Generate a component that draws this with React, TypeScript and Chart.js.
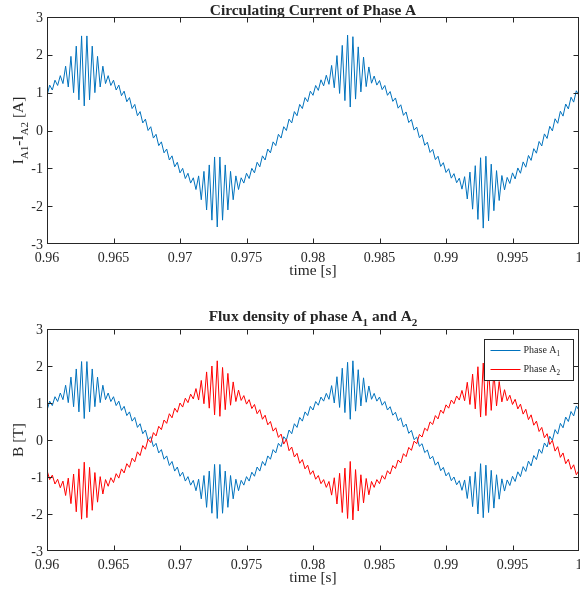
import React, { useEffect, useRef } from 'react';
import { Chart, registerables } from 'chart.js';

Chart.register(...registerables);

// ---------------- data ----------------
const T_START = 0.96;
const T_STEP = 0.0002;

const X_TICKS = [0.96, 0.965, 0.97, 0.975, 0.98, 0.985, 0.99, 0.995, 1];
const X_TICK_LABELS = ['0.96', '0.965', '0.97', '0.975', '0.98', '0.985', '0.99', '0.995', '1'];
const Y_TICKS = [3, 2, 1, 0, -1, -2, -3];
const Y_TICK_LABELS = ['3', '2', '1', '0', '-1', '-2', '-3'];

// I_A1 - I_A2 [A], sampled every T_STEP from T_START
const CIRCULATING_CURRENT = [
  0.92, 1.20, 1.07, 1.33, 1.19, 1.45, 1.24, 1.70, 1.15, 1.96,
  1.00, 2.23, 0.81, 2.50, 0.65, 2.50, 0.81, 2.23, 1.00, 1.96,
  1.15, 1.70, 1.24, 1.45, 1.19, 1.33, 1.07, 1.20, 0.92, 1.04,
  0.76, 0.87, 0.58, 0.69, 0.39, 0.50, 0.20, 0.30, 0.00, 0.10,
  -0.20, -0.10, -0.40, -0.30, -0.59, -0.49, -0.78, -0.67, -0.96, -0.84,
  -1.12, -1.00, -1.27, -1.13, -1.39, -1.25, -1.56, -1.20, -1.83, -1.08,
  -2.10, -0.91, -2.37, -0.70, -2.55, -0.70, -2.37, -0.91, -2.10, -1.08,
  -1.83, -1.20, -1.56, -1.25, -1.39, -1.13, -1.27, -1.00, -1.12, -0.84,
  -0.96, -0.67, -0.78, -0.49, -0.59, -0.30, -0.40, -0.10, -0.20, 0.10,
  0.00, 0.30, 0.20, 0.50, 0.39, 0.69, 0.58, 0.87, 0.76, 1.04,
  0.93, 1.19, 1.06, 1.34, 1.18, 1.46, 1.22, 1.72, 1.13, 1.98,
  0.98, 2.25, 0.79, 2.52, 0.62, 2.48, 0.83, 2.21, 1.02, 1.94,
  1.16, 1.68, 1.25, 1.44, 1.20, 1.32, 1.08, 1.19, 0.93, 1.03,
  0.77, 0.86, 0.59, 0.68, 0.40, 0.49, 0.21, 0.29, 0.01, 0.09,
  -0.19, -0.11, -0.39, -0.31, -0.58, -0.50, -0.77, -0.68, -0.95, -0.85,
  -1.11, -1.01, -1.26, -1.14, -1.38, -1.26, -1.55, -1.22, -1.81, -1.10,
  -2.08, -0.93, -2.35, -0.72, -2.58, -0.68, -2.39, -0.89, -2.12, -1.06,
  -1.85, -1.19, -1.57, -1.24, -1.40, -1.12, -1.28, -0.99, -1.13, -0.83,
  -0.97, -0.66, -0.79, -0.48, -0.60, -0.29, -0.41, -0.09, -0.21, 0.11,
  -0.01, 0.31, 0.19, 0.51, 0.38, 0.70, 0.57, 0.88, 0.75, 1.05,
  0.92,
];

// Flux density of phase A1 [T]
const FLUX_A1 = [
  0.80, 1.05, 0.93, 1.17, 1.04, 1.27, 1.09, 1.48, 1.01, 1.70,
  0.90, 1.92, 0.76, 2.12, 0.58, 2.12, 0.76, 1.92, 0.90, 1.70,
  1.01, 1.48, 1.09, 1.27, 1.04, 1.17, 0.93, 1.05, 0.80, 0.91,
  0.66, 0.76, 0.51, 0.61, 0.34, 0.44, 0.17, 0.27, 0.00, 0.09,
  -0.18, -0.09, -0.35, -0.26, -0.52, -0.43, -0.69, -0.58, -0.84, -0.73,
  -0.98, -0.87, -1.11, -0.99, -1.22, -1.09, -1.37, -1.06, -1.59, -0.96,
  -1.82, -0.84, -1.98, -0.66, -2.12, -0.66, -1.98, -0.84, -1.82, -0.96,
  -1.59, -1.06, -1.37, -1.09, -1.22, -0.99, -1.11, -0.87, -0.98, -0.73,
  -0.84, -0.58, -0.69, -0.43, -0.52, -0.26, -0.35, -0.09, -0.18, 0.09,
  0.00, 0.27, 0.17, 0.44, 0.34, 0.61, 0.51, 0.76, 0.66, 0.91,
  0.81, 1.04, 0.94, 1.16, 1.05, 1.26, 1.10, 1.47, 1.00, 1.71,
  0.88, 1.94, 0.74, 2.10, 0.56, 2.14, 0.78, 1.90, 0.92, 1.68,
  1.02, 1.46, 1.10, 1.26, 1.05, 1.16, 0.94, 1.04, 0.81, 0.90,
  0.67, 0.75, 0.52, 0.60, 0.35, 0.43, 0.18, 0.26, 0.01, 0.08,
  -0.17, -0.10, -0.34, -0.27, -0.51, -0.44, -0.68, -0.59, -0.83, -0.74,
  -0.97, -0.88, -1.10, -1.00, -1.21, -1.10, -1.36, -1.08, -1.58, -0.98,
  -1.80, -0.86, -2.00, -0.64, -2.10, -0.68, -1.96, -0.82, -1.84, -0.94,
  -1.60, -1.05, -1.38, -1.08, -1.23, -0.98, -1.12, -0.86, -0.99, -0.72,
  -0.85, -0.57, -0.70, -0.42, -0.53, -0.25, -0.36, -0.08, -0.19, 0.10,
  -0.01, 0.28, 0.16, 0.45, 0.33, 0.62, 0.50, 0.77, 0.65, 0.92,
  0.80,
];

// Flux density of phase A2 [T]
const FLUX_A2 = [
  -0.82, -1.07, -0.95, -1.19, -1.06, -1.29, -1.11, -1.50, -1.03, -1.72,
  -0.92, -1.94, -0.78, -2.14, -0.60, -2.10, -0.74, -1.90, -0.88, -1.68,
  -0.99, -1.46, -1.07, -1.25, -1.02, -1.15, -0.91, -1.03, -0.78, -0.89,
  -0.64, -0.74, -0.49, -0.59, -0.32, -0.42, -0.15, -0.25, 0.02, -0.07,
  0.20, 0.11, 0.37, 0.28, 0.54, 0.45, 0.71, 0.60, 0.86, 0.75,
  1.00, 0.89, 1.13, 1.01, 1.24, 1.11, 1.39, 1.08, 1.61, 0.98,
  1.84, 0.86, 2.00, 0.68, 2.14, 0.64, 1.96, 0.82, 1.80, 0.94,
  1.57, 1.04, 1.35, 1.07, 1.20, 0.97, 1.09, 0.85, 0.96, 0.71,
  0.82, 0.56, 0.67, 0.41, 0.50, 0.24, 0.33, 0.07, 0.16, -0.11,
  0.02, -0.29, -0.19, -0.46, -0.36, -0.63, -0.53, -0.78, -0.68, -0.93,
  -0.83, -1.06, -0.96, -1.18, -1.07, -1.28, -1.12, -1.49, -1.02, -1.73,
  -0.90, -1.96, -0.76, -2.12, -0.58, -2.16, -0.80, -1.92, -0.94, -1.70,
  -1.04, -1.48, -1.12, -1.28, -1.07, -1.18, -0.96, -1.06, -0.83, -0.92,
  -0.69, -0.77, -0.54, -0.62, -0.37, -0.45, -0.20, -0.28, -0.03, -0.10,
  0.15, 0.08, 0.32, 0.25, 0.49, 0.42, 0.66, 0.57, 0.81, 0.72,
  0.95, 0.86, 1.08, 0.98, 1.19, 1.08, 1.34, 1.06, 1.56, 0.96,
  1.78, 0.84, 1.98, 0.62, 2.08, 0.66, 1.94, 0.80, 1.82, 0.92,
  1.58, 1.03, 1.36, 1.06, 1.21, 0.96, 1.10, 0.84, 0.97, 0.70,
  0.83, 0.55, 0.68, 0.40, 0.51, 0.23, 0.34, 0.06, 0.17, -0.12,
  -0.01, -0.30, -0.18, -0.47, -0.35, -0.64, -0.52, -0.79, -0.67, -0.94,
  -0.82,
];

// ---------------- styling ----------------
const FONT = "'Liberation Serif', 'Times New Roman', Times, serif";
const INK = '#262626';
const BLUE = '#0072BD';
const RED = '#FF0000';

type Part = { t: string; sub?: boolean };

const font = (size: number, bold: boolean) => `${bold ? 'bold ' : ''}${size}px ${FONT}`;

function drawRich(
  ctx: CanvasRenderingContext2D,
  parts: Part[],
  x: number,
  y: number,
  size: number,
  bold: boolean,
  align: 'center' | 'left'
) {
  const subSize = size * 0.72;
  let w = 0;
  for (const p of parts) {
    ctx.font = font(p.sub ? subSize : size, bold);
    w += ctx.measureText(p.t).width;
  }
  let cx = align === 'center' ? x - w / 2 : x;
  ctx.textAlign = 'left';
  ctx.textBaseline = 'alphabetic';
  for (const p of parts) {
    ctx.font = font(p.sub ? subSize : size, bold);
    ctx.fillText(p.t, cx, p.sub ? y + size * 0.3 : y);
    cx += ctx.measureText(p.t).width;
  }
}

type LegendItem = { parts: Part[]; color: string };

type Decor = {
  title: Part[];
  titleY: number;
  ylabel: Part[];
  ylabelX: number;
  xlabelGap: number;
  legend?: LegendItem[];
};

function makeDecorPlugin(d: Decor) {
  return {
    id: 'matlabDecor',
    afterDraw(chart: any) {
      const ctx: CanvasRenderingContext2D = chart.ctx;
      const { left, right, top, bottom } = chart.chartArea;
      const xs = chart.scales.x;
      const ys = chart.scales.y;
      const L = Math.round(left) + 0.5;
      const R = Math.round(right) - 0.5;
      const T = Math.round(top) + 0.5;
      const B = Math.round(bottom) - 0.5;
      const TL = 5;
      ctx.save();
      ctx.strokeStyle = INK;
      ctx.lineWidth = 1;
      ctx.strokeRect(L, T, R - L, B - T);
      ctx.beginPath();
      X_TICKS.forEach((v) => {
        const px = Math.min(R, Math.max(L, Math.round(xs.getPixelForValue(v)) + 0.5));
        ctx.moveTo(px, B);
        ctx.lineTo(px, B - TL);
        ctx.moveTo(px, T);
        ctx.lineTo(px, T + TL);
      });
      Y_TICKS.forEach((v) => {
        const py = Math.min(B, Math.max(T, Math.round(ys.getPixelForValue(v)) + 0.5));
        ctx.moveTo(L, py);
        ctx.lineTo(L + TL, py);
        ctx.moveTo(R, py);
        ctx.lineTo(R - TL, py);
      });
      ctx.stroke();

      // tick labels
      ctx.fillStyle = INK;
      ctx.font = font(14, false);
      ctx.textBaseline = 'alphabetic';
      ctx.textAlign = 'center';
      X_TICKS.forEach((v, i) => {
        ctx.fillText(X_TICK_LABELS[i], xs.getPixelForValue(v), bottom + 17.5);
      });
      ctx.textAlign = 'right';
      Y_TICKS.forEach((v, i) => {
        ctx.fillText(Y_TICK_LABELS[i], left - 4, ys.getPixelForValue(v) + 4.6);
      });

      // title
      const midX = (left + right) / 2;
      drawRich(ctx, d.title, midX, d.titleY, 15.4, true, 'center');
      // x label
      drawRich(ctx, [{ t: 'time [s]' }], midX, bottom + d.xlabelGap, 15.4, false, 'center');
      // y label
      ctx.save();
      ctx.translate(d.ylabelX, (top + bottom) / 2);
      ctx.rotate(-Math.PI / 2);
      drawRich(ctx, d.ylabel, 0, 0, 15.4, false, 'center');
      ctx.restore();

      // legend
      if (d.legend) {
        const bx = 484.5, by = top + 10.5, bw = 89, bh = 41;
        ctx.fillStyle = '#ffffff';
        ctx.fillRect(bx, by, bw, bh);
        ctx.strokeStyle = INK;
        ctx.lineWidth = 1;
        ctx.strokeRect(bx, by, bw, bh);
        d.legend.forEach((item, i) => {
          const cy = by + 10.5 + i * 19;
          ctx.strokeStyle = item.color;
          ctx.beginPath();
          ctx.moveTo(bx + 6, Math.round(cy) + 0.5);
          ctx.lineTo(bx + 36, Math.round(cy) + 0.5);
          ctx.stroke();
          ctx.fillStyle = INK;
          drawRich(ctx, item.parts, bx + 39, cy + 3.4, 10, false, 'left');
        });
      }
      ctx.restore();
    },
  };
}

const toPoints = (vals: number[]) => vals.map((y, i) => ({ x: T_START + i * T_STEP, y }));

function lineDataset(label: string, vals: number[], color: string, order: number) {
  return {
    label,
    data: toPoints(vals),
    borderColor: color,
    backgroundColor: color,
    borderWidth: 1,
    pointRadius: 0,
    tension: 0,
    fill: false,
    order,
  };
}

function baseOptions(padding: { top: number; bottom: number }) {
  return {
    responsive: false,
    animation: false as const,
    devicePixelRatio: 1,
    layout: { padding: { left: 47, right: 1, top: padding.top, bottom: padding.bottom } },
    plugins: { legend: { display: false }, tooltip: { enabled: false }, title: { display: false } },
    events: [] as any[],
    scales: {
      x: { type: 'linear' as const, display: false, min: 0.96, max: 1 },
      y: { type: 'linear' as const, display: false, min: -3, max: 3 },
    },
  };
}

function Plot({ datasets, decor, padding }: { datasets: any[]; decor: Decor; padding: { top: number; bottom: number } }) {
  const ref = useRef<HTMLCanvasElement>(null);
  useEffect(() => {
    if (!ref.current) return;
    const chart = new Chart(ref.current, {
      type: 'line',
      data: { datasets },
      options: baseOptions(padding) as any,
      plugins: [makeDecorPlugin(decor)],
    });
    return () => chart.destroy();
  }, []);
  return <canvas ref={ref} width={580} height={295} style={{ display: 'block', width: 580, height: 295 }} />;
}

export default function App() {
  return (
    <div style={{ position: 'absolute', left: 0, top: 0, width: 580, height: 590, background: '#fff' }}>
      <Plot
        datasets={[lineDataset('I_A1-I_A2', CIRCULATING_CURRENT, BLUE, 0)]}
        padding={{ top: 17, bottom: 51 }}
        decor={{
          title: [{ t: 'Circulating Current of Phase A' }],
          titleY: 15,
          ylabel: [{ t: 'I' }, { t: 'A1', sub: true }, { t: '-I' }, { t: 'A2', sub: true }, { t: ' [A]' }],
          ylabelX: 23,
          xlabelGap: 30.5,
        }}
      />
      <Plot
        datasets={[lineDataset('Phase A1', FLUX_A1, BLUE, 1), lineDataset('Phase A2', FLUX_A2, RED, 0)]}
        padding={{ top: 34, bottom: 39 }}
        decor={{
          title: [{ t: 'Flux density of phase A' }, { t: '1', sub: true }, { t: ' and A' }, { t: '2', sub: true }],
          titleY: 26,
          ylabel: [{ t: 'B [T]' }],
          ylabelX: 23,
          xlabelGap: 30.5,
          legend: [
            { parts: [{ t: 'Phase A' }, { t: '1', sub: true }], color: BLUE },
            { parts: [{ t: 'Phase A' }, { t: '2', sub: true }], color: RED },
          ],
        }}
      />
    </div>
  );
}
